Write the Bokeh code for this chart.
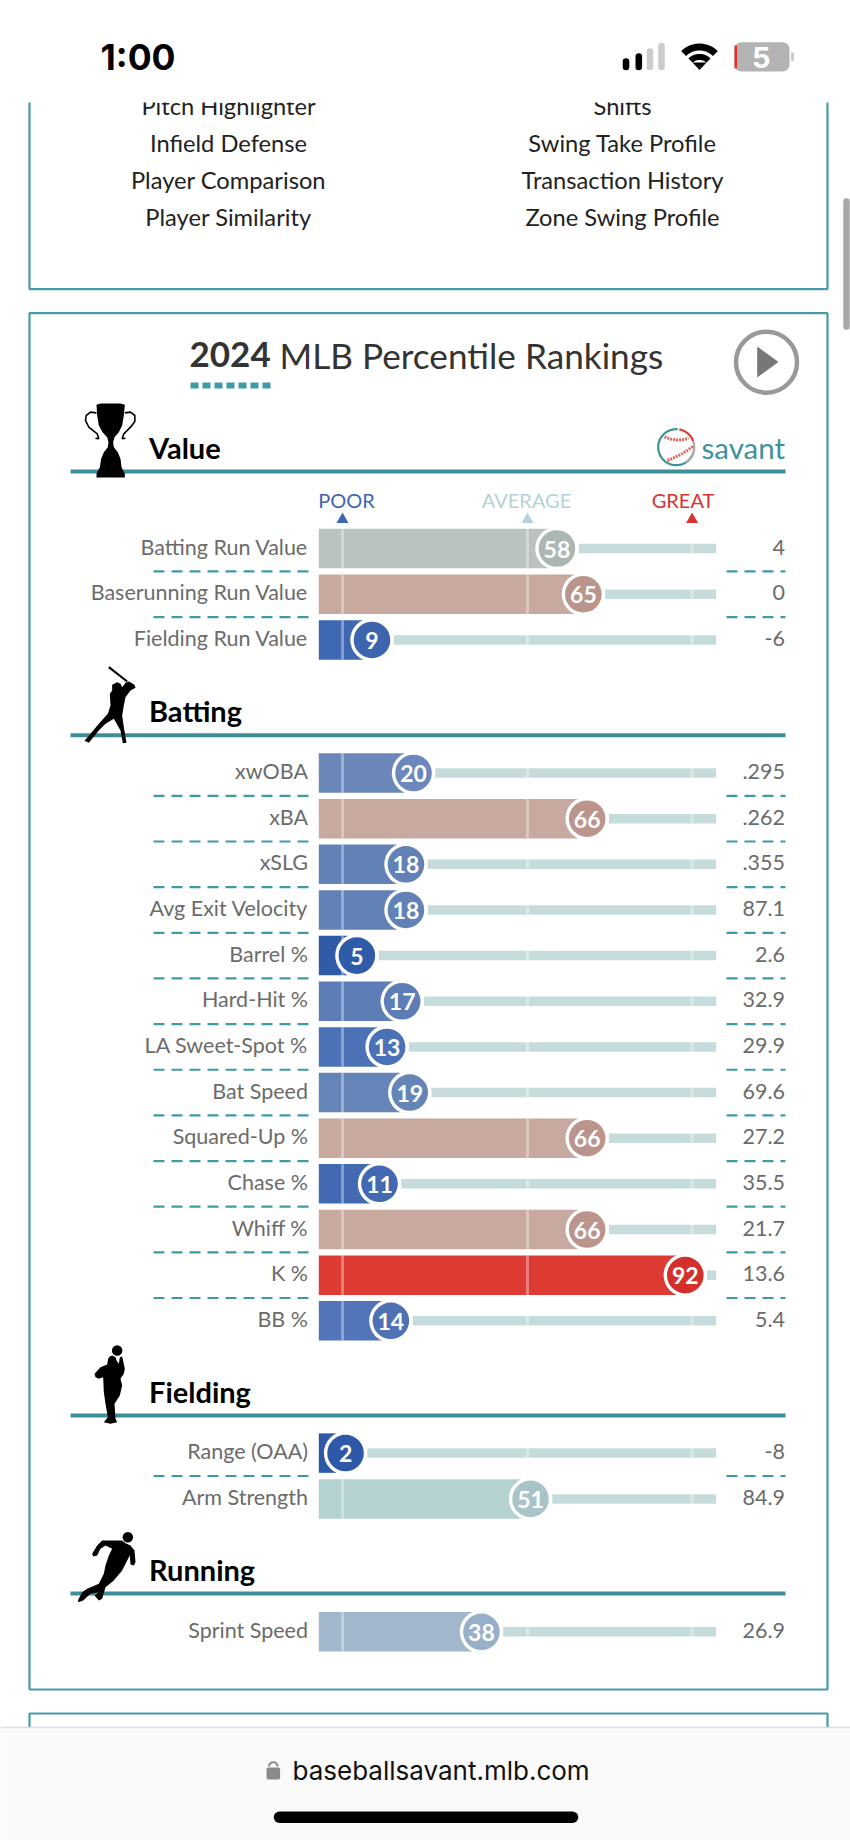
import numpy as np
from bokeh.plotting import figure
from bokeh.models import Range1d
from bokeh.core.properties import value
from bokeh.embed import file_html
from bokeh.resources import INLINE

# ---------- data ----------
value_labels = ["Batting Run Value", "Baserunning Run Value", "Fielding Run Value"]
value_pct = [58, 65, 9]
value_vals = ["4", "0", "-6"]
batting_labels = ["xwOBA", "xBA", "xSLG", "Avg Exit Velocity", "Barrel %", "Hard-Hit %",
                  "LA Sweet-Spot %", "Bat Speed", "Squared-Up %", "Chase %", "Whiff %", "K %", "BB %"]
batting_pct = [20, 66, 18, 18, 5, 17, 13, 19, 66, 11, 66, 92, 14]
batting_vals = [".295", ".262", ".355", "87.1", "2.6", "32.9", "29.9", "69.6", "27.2", "35.5", "21.7", "13.6", "5.4"]
fielding_labels = ["Range (OAA)", "Arm Strength"]
fielding_pct = [2, 51]
fielding_vals = ["-8", "84.9"]
running_labels = ["Sprint Speed"]
running_pct = [38]
running_vals = ["26.9"]
menu_left = ["Pitch Highlighter", "Infield Defense", "Player Comparison", "Player Similarity"]
menu_right = ["Shifts", "Swing Take Profile", "Transaction History", "Zone Swing Profile"]

# ---------- style ----------
PCT_COLORS = {2: ("#2E59A8", "#2E59A8"), 5: ("#2F5BA8", "#2F5BA8"), 9: ("#3F68B2", "#3C65AE"),
              11: ("#4269B1", "#4269B1"), 13: ("#4B72B6", "#4B72B6"), 14: ("#5274B8", "#4F72B4"),
              17: ("#5D7DB6", "#5D7DB6"), 18: ("#6281B7", "#6281B7"), 19: ("#6585B9", "#6585B9"),
              20: ("#6B87BA", "#6C87BB"), 38: ("#A2B7CC", "#97AFC9"), 51: ("#B5D2D3", "#A9C4C8"),
              58: ("#BBC3C1", "#ACB6B3"), 65: ("#C8A99F", "#BB958C"), 66: ("#C8A99F", "#BB958C"),
              92: ("#DD3B33", "#D4302B")}
TEAL = "#3E8E98"
TEAL2 = "#3E9AA5"
BORDER = "#4A9BA8"
TRACK = "#C6DCDC"
LABEL = "#6b6b6b"
NARROW = "Lato"
W, H = 850, 1840
OFF = 0
PX0, PXK = 337.5, 3.775  # pixel position of percentile 0, pixels per percentile


def pct_of(px):
    return (px - PX0) / PXK


p = figure(width=W, height=H, x_range=Range1d(OFF, OFF + W), y_range=Range1d(OFF + H, OFF),
           output_backend="svg", toolbar_location=None, min_border=0, outline_line_color=None,
           background_fill_color="#ffffff", border_fill_color="#ffffff")
p.axis.visible = False
p.grid.visible = False
p.extra_x_ranges = {"pct": Range1d(pct_of(OFF), pct_of(OFF + W))}


def text(x, y, s, size, color, font=NARROW, align="left", base="middle", style="normal", **kw):
    p.text([x], [y], text=[s], text_font=value(font), text_font_size=value(f"{size}px"),
           text_color=color, text_align=align, text_baseline=base, text_font_style=style, **kw)


def rect(x0, y0, x1, y1, color, **kw):
    p.quad(left=[x0], right=[x1], top=[y0], bottom=[y1], fill_color=color, line_color=None, **kw)


def poly(pts, ox, oy, color="#000000", k=1 / 3):
    a = np.array(pts, dtype=float)
    p.patch(a[:, 0] * k + ox, a[:, 1] * k + oy, fill_color=color, line_color=None)


def arc_pts(cx, cy, r, a0, a1, n=40):
    t = np.radians(np.linspace(a0, a1, n))
    return cx + r * np.cos(t), cy - r * np.sin(t)


def rrect(x0, y0, x1, y1, r, color):
    xs, ys = [], []
    for cx, cy, a0 in [(x1 - r, y0 + r, 0), (x0 + r, y0 + r, 90), (x0 + r, y1 - r, 180), (x1 - r, y1 - r, 270)]:
        a, b = arc_pts(cx, cy, r, a0, a0 + 90, 8)
        xs += list(a)
        ys += list(b)
    p.patch(xs, ys, fill_color=color, line_color=None)


# ---------- cards ----------
for x0, y0, x1, y1 in [(29, 95, 827, 288.7), (29, 312.7, 827, 1689), (29, 1713, 827, 1760)]:
    p.quad(left=[x0], right=[x1], top=[y0], bottom=[y1], fill_color=None, line_color=BORDER, line_width=2.2)

for i, (a, b) in enumerate(zip(menu_left, menu_right)):
    y = 105.5 + 36.9 * i
    text(228, y, a, 23.7, "#222222", align="center")
    text(622, y, b, 23.7, "#222222", align="center")

# ---------- status bar + bottom bar ----------
rect(0, 0, 850, 102, "#ffffff")
text(100, 56.7, "1:00", 35.5, "#000000", font="Inter", style="bold")
for (x0, x1, yt, c) in [(625.5, 625.5, 61, "#000"), (638.3, 638.3, 56, "#000"),
                        (649.5, 649.5, 51, "#cccccc"), (661, 661, 45.5, "#cccccc")]:
    p.line([x0, x1], [yt, 66.5], line_color=c, line_width=6.6, line_cap="round")
for r0, r1 in [(19, 26), (9.6, 15.6)]:
    ax, ay = arc_pts(699, 69, r1, 45, 135)
    bx, by = arc_pts(699, 69, r0, 135, 45)
    p.patch(np.r_[ax, bx], np.r_[ay, by], fill_color="#000", line_color=None)
p.patch([692, 706, 699], [62, 62, 69.5], fill_color="#000", line_color=None)
rrect(734, 41.7, 789, 71, 7, "#b3b3b3")
rect(734, 45, 736.5, 68, "#e0302a")
rect(790.5, 52, 793.5, 60.5, "#cccccc")
text(760.7, 56.5, "5", 29, "#ffffff", font="Inter", align="center", style="bold")
p.line([846, 846], [201, 326], line_color="#a8a8a8", line_width=6.5, line_cap="round")

rect(0, 1727, 850, 1840, "#fafafa")
p.line([0, 850], [1727, 1727], line_color="#dddddd", line_width=1.5)
rrect(266, 1767, 279.6, 1779, 2, "#8a8a8a")
ax, ay = arc_pts(272.8, 1766, 4.3, 0, 180)
p.line(ax, ay, line_color="#8a8a8a", line_width=2)
text(292, 1769.5, "baseballsavant.mlb.com", 26, "#111111", font="Inter")
p.line([279, 572], [1816.7, 1816.7], line_color="#000000", line_width=11.5, line_cap="round")

# ---------- title ----------
text(189, 354, "2024", 35, "#333333", style="bold")
text(279, 354, "MLB Percentile Rankings", 35.2, "#333333")
p.line([190, 270], [385, 385], line_color=TEAL2, line_width=6, line_dash="8 4")
p.scatter([766], [361.7], size=61, fill_color=None, line_color="#999999", line_width=4.5)
p.patch([756.7, 778, 756.7], [346, 361.5, 377], fill_color="#777777", line_color=None)

# logo
ax, ay = arc_pts(675.7, 446.7, 18, 85, 345)
p.line(ax, ay, line_color="#3E929C", line_width=2.2)
ax, ay = arc_pts(675.7, 446.7, 18, 20, 80)
p.line(ax, ay, line_color="#DD3B33", line_width=2.2)
ax, ay = arc_pts(675.7, 446.7, 18, -60, 20)
p.line(ax, ay, line_color="#aaaaaa", line_width=2.2)
p.line([664, 670, 677, 684, 688], [436.5, 438.5, 439.5, 439, 437.5], line_color="#E0665C", line_width=3, line_dash="2 1")
p.line([667, 674, 682, 688, 692.5], [460, 457, 453, 449, 446], line_color="#E0665C", line_width=3, line_dash="2 1")
text(701, 447, "savant", 29.5, "#3E929C")

# ---------- sections ----------
for y, name, mid in [(471, "Value", 446.7), (734.7, "Batting", 710), (1415, "Fielding", 1391), (1593, "Running", 1569)]:
    p.line([70, 785], [y, y], line_color=TEAL, line_width=4)
    text(148.5, mid, name, 29, "#000000", style="bold")

# trophy
poly([(78, 28), (90, 24), (150, 24), (163, 28), (160, 60), (155, 90), (145, 110), (132, 125), (128, 140), (130, 155),
      (142, 170), (150, 190), (153, 215), (163, 235), (163, 246), (78, 246), (78, 235), (88, 215), (92, 190), (100, 170),
      (112, 155), (114, 140), (110, 125), (96, 110), (85, 90), (80, 60)], 70, 395)
for hx, hy in [([78, 60, 47, 45, 55, 80, 85, 75], [52, 50, 60, 75, 95, 115, 130, 128]),
               ([163, 180, 193, 193, 180, 160, 155, 165], [52, 50, 60, 78, 95, 115, 130, 128])]:
    p.line(70 + np.array(hx) / 3, 395 + np.array(hy) / 3, line_color="#000", line_width=1.6)
# batter
p.line([70 + 115 / 3, 70 + 170 / 3], [655 + 35 / 3, 655 + 78 / 3], line_color="#000", line_width=2.2)
poly([(125, 88), (140, 80), (150, 85), (155, 95), (165, 82), (175, 78), (192, 88), (195, 97), (180, 105), (165, 125),
      (160, 150), (155, 180), (160, 215), (168, 262), (157, 263), (150, 225), (130, 190), (105, 205), (85, 225), (55, 262),
      (42, 256), (60, 235), (85, 205), (112, 175), (120, 150), (118, 115), (125, 105)], 70, 655)
# fielder
p.scatter([70 + 140 / 3], [1340 + 30 / 3], size=10.5, fill_color="#000", line_color=None)
poly([(125, 45), (135, 50), (138, 60), (145, 70), (148, 50), (155, 48), (163, 85), (160, 100), (150, 115), (155, 135),
      (148, 165), (132, 190), (135, 235), (140, 245), (120, 250), (100, 245), (112, 230), (105, 190), (100, 155), (98, 110),
      (85, 115), (75, 110), (72, 100), (90, 80), (110, 72), (113, 55), (118, 48)], 70, 1340)
# runner
p.scatter([70 + 172 / 3], [1520 + 50 / 3], size=10.5, fill_color="#000", line_color=None)
poly([(155, 60), (165, 68), (180, 75), (192, 90), (195, 125), (190, 135), (180, 132), (178, 105), (170, 120), (155, 150),
      (130, 180), (105, 200), (95, 235), (85, 240), (72, 225), (85, 215), (60, 220), (38, 240), (25, 245), (22, 240),
      (35, 215), (50, 205), (85, 190), (100, 160), (105, 135), (115, 105), (125, 85), (105, 75), (90, 85), (80, 105),
      (68, 108), (65, 100), (80, 75), (95, 60), (125, 60)], 70, 1520)

# ---------- scale legend ----------
MARK_PCT = [1.2, 50.2, 93.8]
for name, x, pct_mark, col in [("POOR", 346, MARK_PCT[0], "#3D66B0"), ("AVERAGE", 526, MARK_PCT[1], "#B5D2D8"),
                               ("GREAT", 682.5, MARK_PCT[2], "#D93330")]:
    text(x, 499.7, name, 20, col, align="center")
    p.scatter([pct_mark], [519], x_range_name="pct", marker="triangle", size=12, fill_color=col, line_color=None)

# ---------- rows ----------
BAR_H = 39.5
BAR_LEFT = pct_of(318.3)
TRACK_END = pct_of(715.7)
GAP = 21.7 / PXK
CAP = 9 / PXK


def section(labels, pcts, vals, centers):
    ys = np.array(centers, dtype=float)
    pc = np.array(pcts, dtype=float)
    bar = [PCT_COLORS[v][0] for v in pcts]
    dot = [PCT_COLORS[v][1] for v in pcts]
    p.hbar(y=ys, left=pc + GAP, right=TRACK_END, height=9.5, x_range_name="pct", fill_color=TRACK, line_color=None)
    p.hbar(y=ys, left=BAR_LEFT, right=pc - CAP, height=BAR_H, x_range_name="pct", fill_color=bar, line_color=None)
    for m in MARK_PCT:
        p.segment(x0=[m] * len(ys), x1=[m] * len(ys), y0=ys - BAR_H / 2, y1=ys + BAR_H / 2, x_range_name="pct",
                  line_color="#ffffff", line_alpha=0.35, line_width=3)
    p.scatter(x=pc, y=ys, x_range_name="pct", size=43.4, fill_color="#ffffff", line_color=None)
    p.scatter(x=pc, y=ys, x_range_name="pct", size=36.6, fill_color=dot, line_color=None)
    p.text(x=pc, y=ys + 0.5, text=[str(v) for v in pcts], x_range_name="pct", text_font=value(NARROW),
           text_font_size=value("23px"), text_font_style="bold", text_color="#ffffff", text_align="center",
           text_baseline="middle")
    p.text(x=[307.5] * len(ys), y=ys - 2, text=labels, text_font=value(NARROW), text_font_size=value("21.5px"),
           text_color=LABEL, text_align="right", text_baseline="middle")
    p.text(x=[784.5] * len(ys), y=ys - 1.5, text=vals, text_font=value(NARROW), text_font_size=value("21.5px"),
           text_color=LABEL, text_align="right", text_baseline="middle")
    if len(ys) > 1:
        mid = (ys[:-1] + ys[1:]) / 2
        p.multi_line(xs=[[153, 308] for _ in mid], ys=[[m, m] for m in mid], line_color=TEAL2, line_width=2.2,
                     line_dash="11 7")
        p.multi_line(xs=[[726, 785] for _ in mid], ys=[[m, m] for m in mid], line_color=TEAL2, line_width=2.2,
                     line_dash="11 7")


section(value_labels, value_pct, value_vals, [548 + 45.7 * i for i in range(3)])
section(batting_labels, batting_pct, batting_vals, [772.5 + 45.65 * i for i in range(13)])
section(fielding_labels, fielding_pct, fielding_vals, [1452.6, 1498.4])
section(running_labels, running_pct, running_vals, [1631.3])

open("out.html", "w").write(file_html(p, INLINE))
